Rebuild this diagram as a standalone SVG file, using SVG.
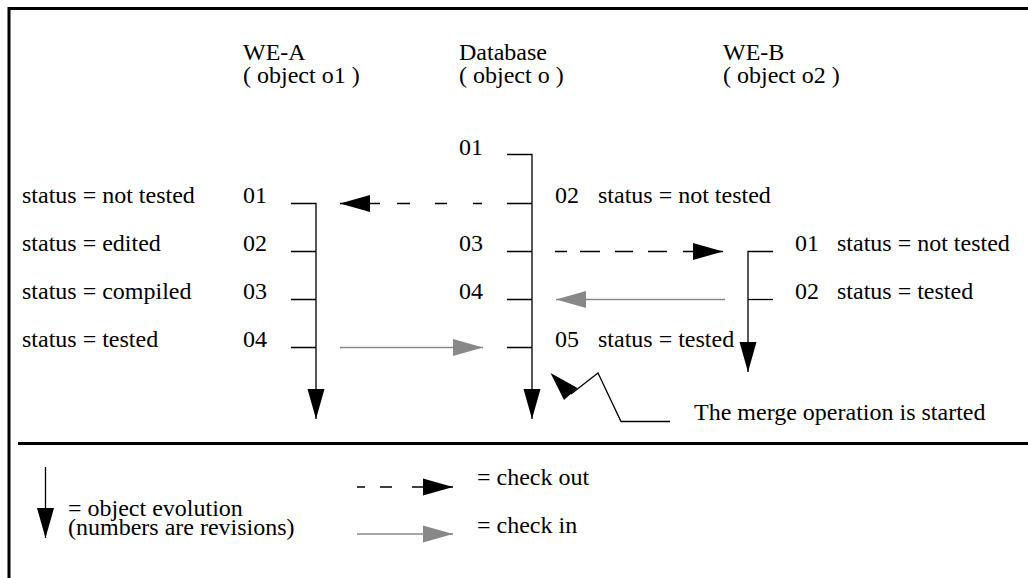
<svg xmlns="http://www.w3.org/2000/svg" width="1028" height="578" viewBox="0 0 1028 578" font-family="'Liberation Serif', 'Times New Roman', Times, 'DejaVu Serif', serif" font-size="24">
  <style>
    text { font-family: 'Liberation Serif', 'Times New Roman', Times, 'DejaVu Serif', serif; font-size: 24px; fill: #000; }
    .frame { stroke: #000; stroke-width: 3; fill: none; }
    .line { stroke: #000; stroke-width: 1.3; fill: none; }
    .out { stroke: #000; stroke-width: 1.3; fill: none; }
    .in { stroke: #888; stroke-width: 1.5; fill: none; }
    .head { fill: #000; }
    .ghead { fill: #888; }
  </style>
  <defs>
    <marker id="arrow-black" markerUnits="userSpaceOnUse" markerWidth="30" markerHeight="18" viewBox="0 0 30 18" refX="30" refY="9" orient="auto">
      <path d="M0,0.5 L30,9 L0,17.5 z" class="head"/>
    </marker>
    <marker id="arrow-gray" markerUnits="userSpaceOnUse" markerWidth="30" markerHeight="18" viewBox="0 0 30 18" refX="30" refY="9" orient="auto">
      <path d="M0,0.5 L30,9 L0,17.5 z" class="ghead"/>
    </marker>
  </defs>

  <rect width="1028" height="578" fill="#fff"/>

  <!-- outer frame and legend separator -->
  <g id="frame">
    <path class="frame" d="M9,578 V8.5 H1028"/>
    <path class="frame" d="M18,443.5 H1028"/>
  </g>

  <!-- workspace A: object o1 -->
  <g id="we-a">
    <text x="243" y="60">WE-A</text>
    <text x="243" y="83">( object o1 )</text>
    <path class="line" d="M291,203.5 H316 V419" marker-end="url(#arrow-black)"/>
    <path class="line" d="M291,251.5 H316 M291,299.5 H316 M291,347.5 H316"/>
    <text x="22" y="203">status = not tested</text>
    <text x="243" y="203">01</text>
    <text x="22" y="251">status = edited</text>
    <text x="243" y="251">02</text>
    <text x="22" y="299">status = compiled</text>
    <text x="243" y="299">03</text>
    <text x="22" y="347">status = tested</text>
    <text x="243" y="347">04</text>
  </g>

  <!-- database: object o -->
  <g id="database">
    <text x="459" y="60">Database</text>
    <text x="459" y="83">( object o )</text>
    <path class="line" d="M507,154.5 H532 V419" marker-end="url(#arrow-black)"/>
    <path class="line" d="M507,203.5 H532 M507,251.5 H532 M507,299.5 H532 M507,347.5 H532"/>
    <text x="459" y="155">01</text>
    <text x="555" y="203">02</text>
    <text x="598" y="203">status = not tested</text>
    <text x="459" y="251">03</text>
    <text x="459" y="299">04</text>
    <text x="555" y="347">05</text>
    <text x="598" y="347">status = tested</text>
  </g>

  <!-- workspace B: object o2 -->
  <g id="we-b">
    <text x="723" y="60">WE-B</text>
    <text x="723" y="83">( object o2 )</text>
    <path class="line" d="M773,251.5 H748 V372" marker-end="url(#arrow-black)"/>
    <path class="line" d="M748,299.5 H773"/>
    <text x="795" y="251">01</text>
    <text x="837" y="251">status = not tested</text>
    <text x="795" y="299">02</text>
    <text x="837" y="299">status = tested</text>
  </g>

  <!-- check-out / check-in transfers -->
  <g id="connectors">
    <path class="out" d="M482,203.5 H340" stroke-dasharray="9 26 12 25 13 17 60" marker-end="url(#arrow-black)"/>
    <path class="out" d="M555,251.5 H723" stroke-dasharray="12 13 20 15 18 15 19 16 60" marker-end="url(#arrow-black)"/>
    <path class="in" d="M725,299.5 H556" marker-end="url(#arrow-gray)"/>
    <path class="in" d="M340,347.5 H483" marker-end="url(#arrow-gray)"/>
  </g>

  <!-- merge callout -->
  <g id="merge-note">
    <path class="line" d="M670,421.5 H621 L598,373 L571,394"/>
    <polygon class="head" points="550.5,373 564,400 577.5,388"/>
    <text x="694" y="420">The merge operation is started</text>
  </g>

  <!-- legend -->
  <g id="legend">
    <path class="line" d="M45.5,467 V538" marker-end="url(#arrow-black)"/>
    <text x="68" y="516">= object evolution</text>
    <text x="68" y="535">(numbers are revisions)</text>
    <path class="out" d="M357,487 H453" stroke-dasharray="8 15 12 20 60" marker-end="url(#arrow-black)"/>
    <text x="477" y="485">= check out</text>
    <path class="in" d="M357,534 H453" marker-end="url(#arrow-gray)"/>
    <text x="477" y="533">= check in</text>
  </g>
</svg>
